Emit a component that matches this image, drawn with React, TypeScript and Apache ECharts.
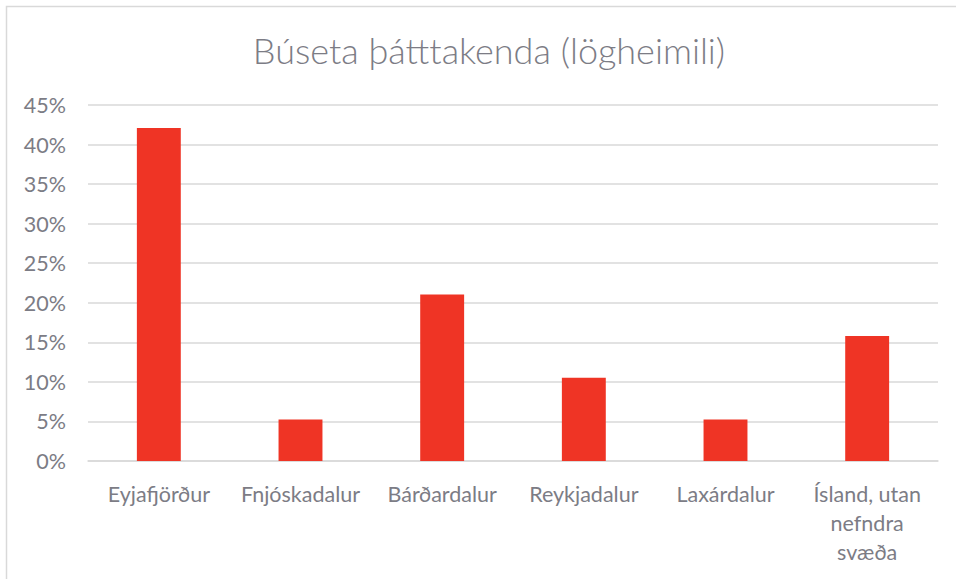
import React, { useEffect, useRef } from "react";
import * as echarts from "echarts";

const categories = [
  "Eyjafjörður",
  "Fnjóskadalur",
  "Bárðardalur",
  "Reykjadalur",
  "Laxárdalur",
  "Ísland, utan\nnefndra\nsvæða",
];
const shares = [42.1, 5.26, 21.05, 10.53, 5.26, 15.79];
const yTicks = { min: 0, max: 45, step: 5 };

const TEXT = "#7c7c85";
const FONT = "Lato, 'Open Sans', sans-serif";

export default function App() {
  const ref = useRef<HTMLDivElement>(null);

  useEffect(() => {
    document.body.style.margin = "0";
    const chart = echarts.init(ref.current!, undefined, { renderer: "svg" });
    chart.setOption({
      animation: false,
      backgroundColor: "#ffffff",
      title: {
        text: "Búseta þátttakenda (lögheimili)",
        left: 484,
        top: 27,
        textAlign: "center",
        textStyle: {
          color: TEXT,
          fontFamily: FONT,
          fontWeight: 300,
          fontSize: 36,
        },
      },
      graphic: [
        {
          type: "rect",
          shape: { x: 6.5, y: 6.5, width: 1000, height: 700 },
          style: { fill: "none", stroke: "#d9d9d9", lineWidth: 1.5 },
          silent: true,
        },
      ],
      grid: { left: 88, right: 18, top: 105, bottom: 118 },
      xAxis: {
        type: "category",
        data: categories,
        axisLine: { lineStyle: { color: "#d9d9d9", width: 1.5 } },
        axisTick: { show: false },
        axisLabel: {
          color: TEXT,
          fontFamily: FONT,
          fontSize: 21.5,
          lineHeight: 29,
          margin: 18,
          interval: 0,
          verticalAlign: "top",
        },
      },
      yAxis: {
        type: "value",
        min: yTicks.min,
        max: yTicks.max,
        interval: yTicks.step,
        axisLine: { show: false },
        axisTick: { show: false },
        splitLine: { lineStyle: { color: "#d9d9d9", width: 1.5 } },
        axisLabel: {
          color: TEXT,
          fontFamily: FONT,
          fontSize: 21.5,
          margin: 22,
          formatter: (v: number) => `${v}%`,
        },
      },
      series: [
        {
          type: "bar",
          data: shares,
          barWidth: "31%",
          itemStyle: { color: "#ef3425" },
        },
      ],
    });
    return () => chart.dispose();
  }, []);

  return (
    <div
      ref={ref}
      style={{ position: "fixed", left: 0, top: 0, width: 956, height: 579 }}
    />
  );
}
